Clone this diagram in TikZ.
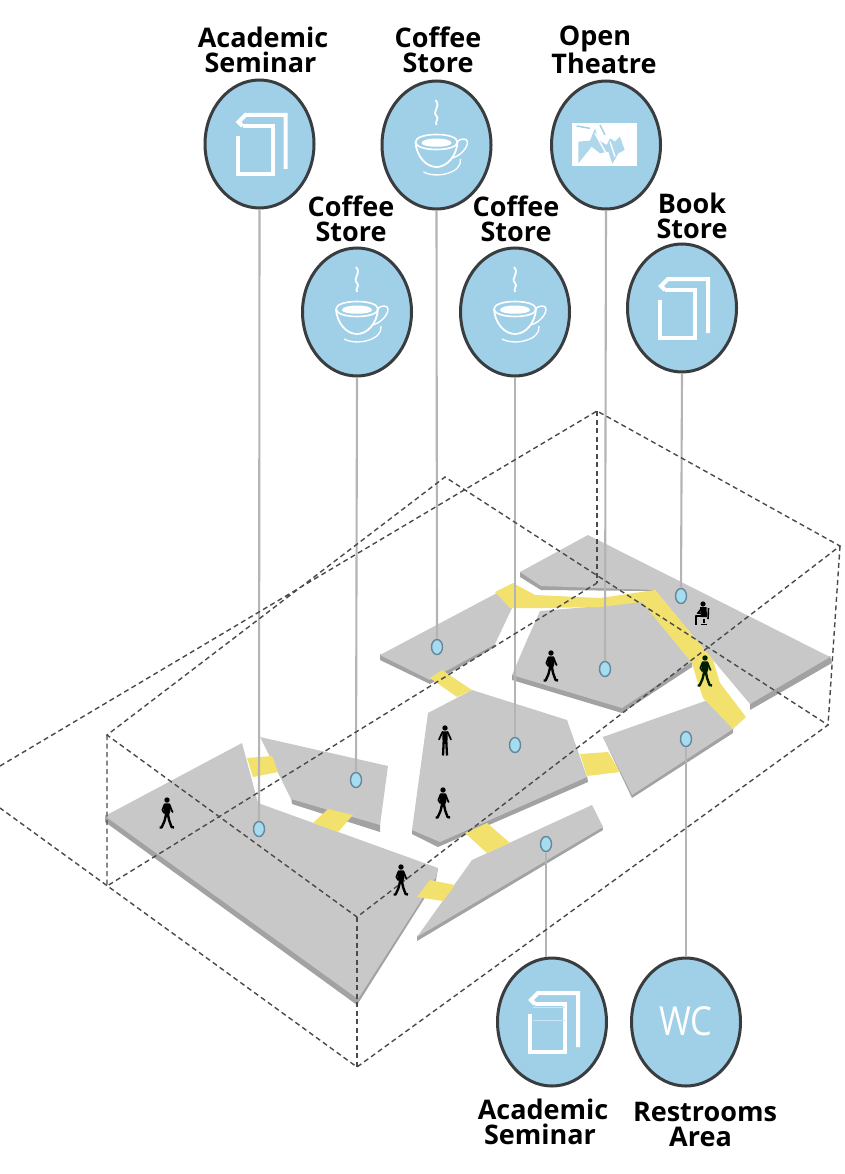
\documentclass[tikz,border=0pt]{standalone}
\usepackage{fontspec}
\setmainfont{Open Sans}
\usetikzlibrary{shapes.geometric}
\definecolor{slab}{HTML}{C8C8C8}
\definecolor{slabedge}{HTML}{A2A2A2}
\definecolor{walk}{HTML}{F2E16C}
\definecolor{disc}{HTML}{A0D0E8}
\definecolor{discline}{HTML}{3A3D3F}
\definecolor{leader}{HTML}{B4B4B4}
\definecolor{boxline}{HTML}{4A4A4A}
\definecolor{dotfill}{HTML}{A6DCF0}
\definecolor{dotline}{HTML}{66879A}
\tikzset{
  topslab/.style={fill=slab,draw=none},
  sideslab/.style={fill=slabedge,draw=none},
  walkway/.style={fill=walk,draw=none},
  bubble/.style={ellipse,draw=discline,line width=3pt,fill=disc,minimum width=109pt,minimum height=128pt,inner sep=0pt},
  spot/.style={ellipse,draw=dotline,line width=1.4pt,fill=dotfill,minimum width=11pt,minimum height=15pt,inner sep=0pt},
  link/.style={draw=leader,line width=2.1pt},
  wire/.style={draw=boxline,line width=1.4pt,dash pattern=on 5pt off 3.5pt},
  lab/.style={align=center,inner sep=0pt,font=\fontsize{27}{25}\selectfont\bfseries,text=black},
  icon/.style={draw=white,line width=4pt,line join=miter},
  pics/walker/.style={code={
    \fill (0,-13) circle (2.7);
    \fill (-2.6,-9.6) -- (2.6,-9.6) -- (3.4,-2) -- (2,2) -- (-2,2) -- (-3,-2) -- cycle;
    \draw[line width=1.8pt,line cap=round,line join=round] (-2.4,-8.5) -- (-4.6,-3) -- (-2.8,0);
    \draw[line width=1.8pt,line cap=round,line join=round] (2.4,-8.5) -- (4.6,-3) -- (5.6,-1);
    \draw[line width=2.4pt,line join=round] (-0.8,1) -- (-2.5,8) -- (-5.4,14.5) -- (-7.5,14.5);
    \draw[line width=2.4pt,line join=round] (0.8,1) -- (2.2,7.5) -- (4.6,14) -- (7,14.5);
  }},
  pics/standee/.style={code={
    \fill (0,-13) circle (2.7);
    \fill (-2.8,-9.6) -- (2.8,-9.6) -- (2.4,2) -- (-2.4,2) -- cycle;
    \draw[line width=1.7pt,line cap=round] (-2.6,-9) -- (-6,-1.5);
    \draw[line width=1.7pt,line cap=round] (2.6,-9) -- (6,-1.5);
    \draw[line width=2.3pt] (-1.3,1) -- (-2,14.5);
    \draw[line width=2.3pt] (1.3,1) -- (2,14.5);
  }},
  pics/sitter/.style={code={
    \fill (1,-10) circle (2.6);
    \fill (-2,-7) -- (4.5,-7) -- (5,3) -- (-1,3) -- cycle;
    \draw[line width=1.6pt] (-1,-5) -- (-4,-1) -- (0,-0.5);
    \draw[line width=2.6pt,line join=round] (3,2) -- (-6,2) -- (-6,11);
    \draw[line width=1.6pt] (6.5,-6) -- (6,5);
    \draw[line width=1.4pt] (2,5) -- (2,9) (-1,10.5) -- (5,10.5);
  }},
}
\newcommand{\bookicon}[2]{%
  \begin{scope}[shift={(#1,#2)}]
    \draw[icon] (-22,-8) -- (-22,30) -- (13,30) -- (13,-18) -- (-17,-18);
    \draw[icon] (26,25) -- (26,-29) -- (-14,-29) -- (-21,-22) -- (-17,-18);
  \end{scope}}
\newcommand{\cupicon}[2]{%
  \begin{scope}[shift={(#1,#2)}]
    \draw[white,line width=1.6pt] (-21,-3) .. controls (-21,-13) and (21,-13) .. (21,-3) .. controls (21,7) and (-21,7) .. (-21,-3);
    \fill[white] (-15,-2) .. controls (-15,-8) and (15,-8) .. (15,-2) .. controls (15,3) and (-15,3) .. (-15,-2);
    \draw[white,line width=1.8pt] (-21,-3) .. controls (-20,12) and (-10,22) .. (0,22) .. controls (10,22) and (20,12) .. (21,-3);
    \draw[white,line width=1.4pt] (20,-3) .. controls (24,-7) and (31,-7) .. (31,-3) .. controls (31,4) and (22,12) .. (15,13);
    \draw[white,line width=1.3pt] (-13,27) .. controls (0,34) and (26,28) .. (24,14);
    \draw[white,line width=1.8pt] (-1,-45) .. controls (5,-38) and (-5,-34) .. (0,-29) .. controls (3,-26) and (-2,-23) .. (0,-20);
  \end{scope}}
\begin{document}
\begin{tikzpicture}[x=1pt,y=-1pt]
\useasboundingbox (0,0) rectangle (845,1174);
\fill[white] (0,0) rectangle (845,1174);

% slabs
\path[sideslab] (105,815) -- (358,995) -- (436,872) -- (438,868) -- (436,880) -- (357,1005) -- (105,822) -- cycle;
\path[topslab] (105,816) -- (242,743) -- (258,803) -- (438,868) -- (436,877) -- (358,999) -- cycle;
\path[sideslab] (291,797) -- (380,822) -- (380,832) -- (292,804) -- cycle;
\path[topslab] (260,737) -- (388,766) -- (380,825) -- (291,799) -- cycle;
\path[sideslab] (412,829) -- (440,841) -- (587,776) -- (588,782) -- (438,847) -- (412,834) -- cycle;
\path[topslab] (428,713) -- (472,690) -- (567,720) -- (587,777) -- (440,842) -- (412,830) -- cycle;
\path[sideslab] (417,936) -- (602,825) -- (603,830) -- (417,941) -- cycle;
\path[topslab] (472,860) -- (592,805) -- (603,827) -- (417,937) -- cycle;
\path[sideslab] (603,737) -- (733,729) -- (733,733) -- (632,798) -- cycle;
\path[topslab] (603,737) -- (708,700) -- (733,729) -- (632,795) -- cycle;
\path[sideslab] (380,654) -- (430,679) -- (495,644) -- (495,647) -- (430,684) -- (380,660) -- cycle;
\path[topslab] (380,655) -- (497,593) -- (512,608) -- (495,644) -- (430,680) -- cycle;
\path[sideslab] (512,674) -- (622,707) -- (692,661) -- (692,667) -- (622,713) -- (512,680) -- cycle;
\path[topslab] (512,675) -- (527,640) -- (540,611) -- (600,606) -- (642,601) -- (692,662) -- (622,708) -- cycle;
\path[sideslab] (520,572) -- (541,583) -- (653,587) -- (653,591) -- (541,590) -- (520,577) -- cycle;
\path[sideslab] (750,703) -- (830,656) -- (832,663) -- (750,710) -- cycle;
\path[topslab] (520,572) -- (588,535) -- (830,657) -- (750,704) -- (713,660) -- (655,590) -- (541,586) -- cycle;

% yellow walkways
\path[walkway] (495,592) -- (513,583) -- (535,595) -- (600,598) -- (655,590) -- (713,660) -- (720,683) -- (746,717) -- (733,729) -- (703,698) -- (697,680) -- (692,663) -- (642,602) -- (600,607) -- (543,608) -- (510,608) -- cycle;
\path[walkway] (580,754) -- (608,752) -- (620,772) -- (587,776) -- cycle;
\path[walkway] (465,833) -- (487,823) -- (510,843) -- (487,853) -- cycle;
\path[walkway] (417,897) -- (430,880) -- (455,885) -- (443,901) -- cycle;
\path[walkway] (247,758) -- (272,756) -- (278,772) -- (253,777) -- cycle;
\path[walkway] (313,823) -- (328,809) -- (353,815) -- (338,832) -- cycle;
\path[walkway] (430,678) -- (442,670) -- (472,690) -- (457,697) -- cycle;

% bubbles
\node[bubble] (b1) at (259.5,144) {};
\node[bubble] (b2) at (436.5,145) {};
\node[bubble] (b3) at (357,312) {};
\node[bubble] (b4) at (515,312) {};
\node[bubble] (b5) at (606,145) {};
\node[bubble] (b6) at (682,308) {};
\node[bubble] (b7) at (552,1022) {};
\node[bubble] (b8) at (686,1022) {};

% spots
\node[spot] (s1) at (259,829) {};
\node[spot] (s2) at (356,780) {};
\node[spot] (s3) at (437,647) {};
\node[spot] (s4) at (515,745) {};
\node[spot] (s5) at (605,669) {};
\node[spot] (s6) at (681,596) {};
\node[spot] (s7) at (546,844) {};
\node[spot] (s8) at (686,739) {};

% leaders
\draw[link] (b1.south) -- (s1.north);
\draw[link] (b2.south) -- (s3.north);
\draw[link] (b3.south) -- (s2.north);
\draw[link] (b4.south) -- (s4.north);
\draw[link] (b5.south) -- (s5.north);
\draw[link] (b6.south) -- (s6.north);
\draw[link] (s7.south) -- (s7.south |- b7.north);
\draw[link] (s8.south) -- (b8.north);

% dashed box
\coordinate (backtop) at (597,411);
\coordinate (righttop) at (840,546);
\coordinate (fronttop) at (357,917);
\coordinate (lefttop) at (107,735);
\coordinate (midtop) at (445,477);
\coordinate (backbot) at (597,583);
\coordinate (rightbot) at (828,725);
\coordinate (frontbot) at (357,1067);
\coordinate (leftbot) at (107,886);
\coordinate (edgea) at (0,766);
\coordinate (edgeb) at (0,808);
\draw[wire] (edgea) -- (backtop) -- (righttop) -- (fronttop) -- (lefttop) -- (midtop) -- (rightbot) -- (frontbot) -- (edgeb);
\draw[wire] (backtop) -- (backbot);
\draw[wire] (righttop) -- (rightbot);
\draw[wire] (lefttop) -- (leftbot) -- (backbot);
\draw[wire] (fronttop) -- (frontbot);

% people
\pic at (167,813) {walker};
\pic at (551,666) {walker};
\pic at (443,803) {walker};
\pic at (401,880) {walker};
\pic at (445,741) {standee};
\begin{scope}[color=black!80!green!60!black]
  \pic at (705,671) {walker};
\end{scope}
\pic at (702,614) {sitter};

% icons
\bookicon{259.5}{144}
\bookicon{682}{308}
\bookicon{552}{1022}
\draw[white!45!disc,line width=1pt] (533,1007) -- (565,1007) (533,1020) -- (565,1020);
\cupicon{436.5}{145}
\cupicon{357}{312}
\cupicon{515}{312}
\begin{scope}[shift={(540,20)},x=0.3333pt,y=-0.3333pt]
  \fill[white] (97,310) rectangle (290,437);
  \fill[disc!85!white] (115,365) -- (150,362) -- (165,325) -- (175,360) -- (200,375) -- (210,355) -- (225,365) -- (240,350) -- (254,390) -- (235,400) -- (217,432) -- (205,395) -- (180,400) -- (155,380) -- (115,430) -- cycle;
  \draw[disc,line width=1.5pt] (110,318) -- (150,325) (180,315) -- (195,345);
  \draw[white,line width=1.4pt] (165,340) -- (215,430) (210,365) -- (225,410);
\end{scope}
\node[inner sep=0pt,text=white,font=\fontsize{40}{40}\selectfont,xscale=.86] (wc) at (686,1021) {WC};

% labels
\node[lab] (l1) at (263,49.5) {Academic\\Seminar\hspace*{5pt}};
\node[lab] (l2) at (438,49.5) {Coffee\\Store};
\node[lab] (l3) at (351,218.5) {Coffee\\Store};
\node[lab] (l4) at (516,218.5) {Coffee\\Store};
\node[lab] (l5) at (604,50) {Open\hspace*{18pt}\\Theatre};
\node[lab] (l6) at (692,216) {Book\\Store};
\node[lab] (l7) at (543,1122) {Academic\\Seminar\hspace*{6pt}};
\node[lab] (l8) at (705,1124) {Restrooms\\Area\hspace*{9pt}};
\end{tikzpicture}
\end{document}
